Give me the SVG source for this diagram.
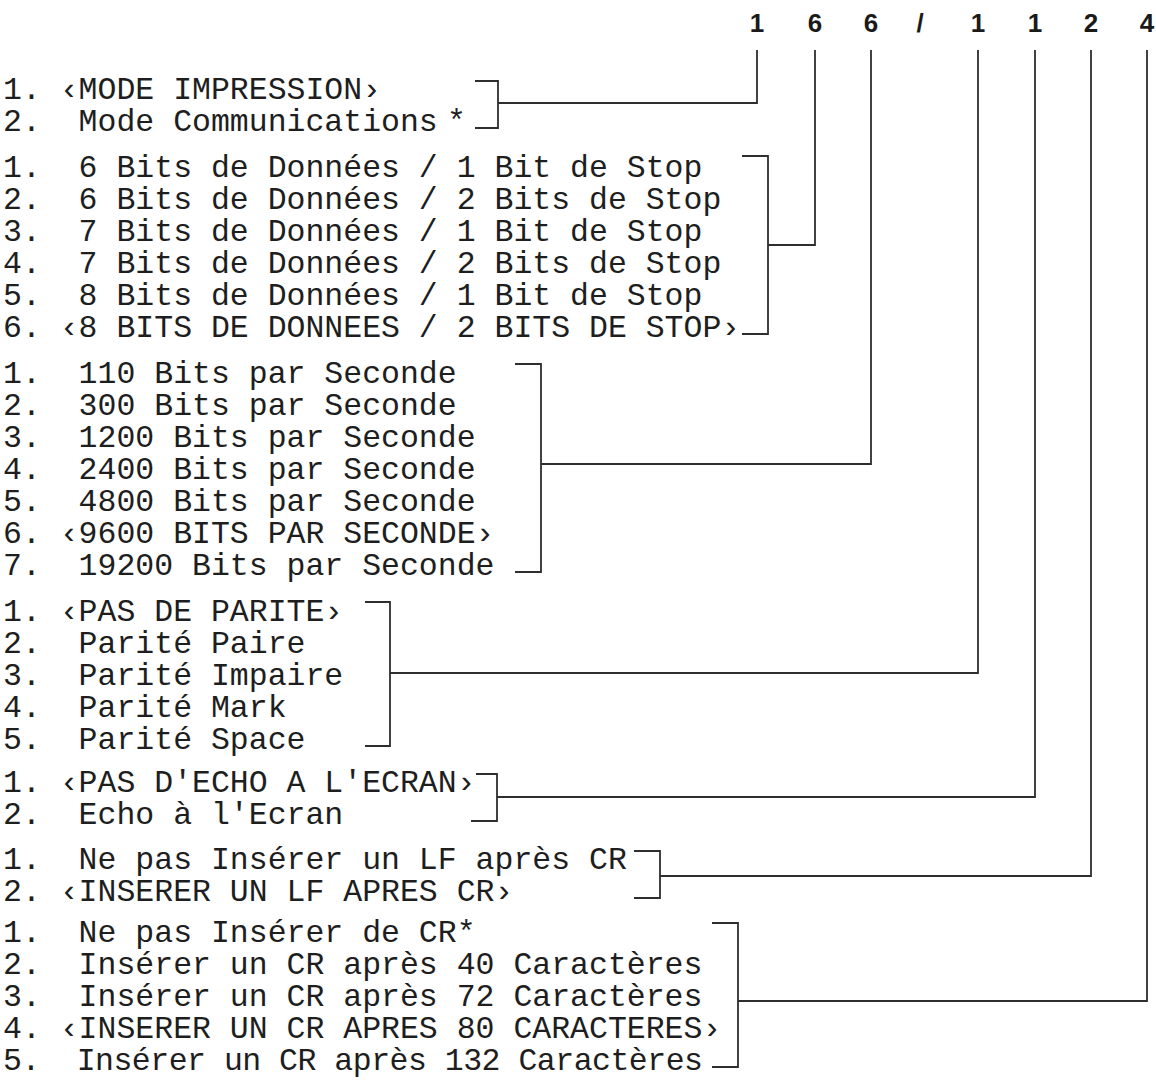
<svg xmlns="http://www.w3.org/2000/svg" width="1156" height="1080" viewBox="0 0 1156 1080">
<style>
.t{font-family:"Liberation Mono","DejaVu Sans Mono",monospace;font-size:31.5px;fill:#1e1e1e;white-space:pre}
.h{font-family:"Liberation Sans",Arial,sans-serif;font-size:26px;font-weight:bold;fill:#1a1a1a;text-anchor:middle}
.b,.c{fill:none;stroke:#2e2e2e;stroke-width:1.8}
</style>
<rect width="1156" height="1080" fill="#ffffff"/>
<g id="header">
<text class="h" x="757" y="32">1</text>
<text class="h" x="815" y="32">6</text>
<text class="h" x="871" y="32">6</text>
<text class="h" x="920" y="32">/</text>
<text class="h" x="978" y="32">1</text>
<text class="h" x="1035" y="32">1</text>
<text class="h" x="1091" y="32">2</text>
<text class="h" x="1147" y="32">4</text>
</g>
<g id="mode">
<text class="t" x="3" y="99">1. ‹MODE IMPRESSION›</text>
<text class="t" x="3" y="131">2.  Mode Communications</text>
<text class="t" x="447" y="131">*</text>
<path class="b" d="M475,81 H498 V128 H475"/>
</g>
<g id="data-bits">
<text class="t" x="3" y="177">1.  6 Bits de Données / 1 Bit de Stop</text>
<text class="t" x="3" y="209">2.  6 Bits de Données / 2 Bits de Stop</text>
<text class="t" x="3" y="241">3.  7 Bits de Données / 1 Bit de Stop</text>
<text class="t" x="3" y="273">4.  7 Bits de Données / 2 Bits de Stop</text>
<text class="t" x="3" y="305">5.  8 Bits de Données / 1 Bit de Stop</text>
<text class="t" x="3" y="337">6. ‹8 BITS DE DONNEES / 2 BITS DE STOP›</text>
<path class="b" d="M742,156 H768 V334 H742"/>
</g>
<g id="baud">
<text class="t" x="3" y="383">1.  110 Bits par Seconde</text>
<text class="t" x="3" y="415">2.  300 Bits par Seconde</text>
<text class="t" x="3" y="447">3.  1200 Bits par Seconde</text>
<text class="t" x="3" y="479">4.  2400 Bits par Seconde</text>
<text class="t" x="3" y="511">5.  4800 Bits par Seconde</text>
<text class="t" x="3" y="543">6. ‹9600 BITS PAR SECONDE›</text>
<text class="t" x="3" y="575">7.  19200 Bits par Seconde</text>
<path class="b" d="M515,364 H541 V572 H515"/>
</g>
<g id="parity">
<text class="t" x="3" y="621">1. ‹PAS DE PARITE›</text>
<text class="t" x="3" y="653">2.  Parité Paire</text>
<text class="t" x="3" y="685">3.  Parité Impaire</text>
<text class="t" x="3" y="717">4.  Parité Mark</text>
<text class="t" x="3" y="749">5.  Parité Space</text>
<path class="b" d="M365,602 H390 V746 H365"/>
</g>
<g id="echo">
<text class="t" x="3" y="792">1. ‹PAS D'ECHO A L'ECRAN›</text>
<text class="t" x="3" y="824">2.  Echo à l'Ecran</text>
<path class="b" d="M476,774 H497 V821 H471"/>
</g>
<g id="linefeed">
<text class="t" x="3" y="869">1.  Ne pas Insérer un LF après CR</text>
<text class="t" x="3" y="901">2. ‹INSERER UN LF APRES CR›</text>
<path class="b" d="M634,851 H660 V898 H634"/>
</g>
<g id="carriage-return">
<text class="t" x="3" y="942">1.  Ne pas Insérer de CR*</text>
<text class="t" x="3" y="974">2.  Insérer un CR après 40 Caractères</text>
<text class="t" x="3" y="1006">3.  Insérer un CR après 72 Caractères</text>
<text class="t" x="3" y="1038">4. ‹INSERER UN CR APRES 80 CARACTERES›</text>
<text class="t" x="3" y="1070" textLength="700" lengthAdjust="spacing">5.  Insérer un CR après 132 Caractères</text>
<path class="b" d="M712,923 H738 V1067 H712"/>
</g>
<g id="connectors">
<path class="c" d="M498,103 H757 V50"/>
<path class="c" d="M768,245 H815 V50"/>
<path class="c" d="M541,464 H871 V50"/>
<path class="c" d="M390,673 H978 V50"/>
<path class="c" d="M497,797 H1035 V50"/>
<path class="c" d="M660,876 H1091 V50"/>
<path class="c" d="M738,1001 H1147 V50"/>
</g>
</svg>
